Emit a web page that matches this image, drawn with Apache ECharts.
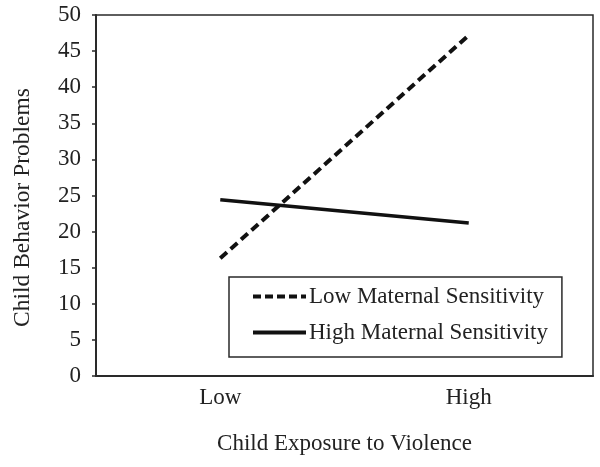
<!DOCTYPE html>
<html><head><meta charset="utf-8">
<script src="https://cdn.jsdelivr.net/npm/echarts@6/dist/echarts.min.js"></script>
<style>html,body{margin:0;padding:0;background:#fff}#c{width:600px;height:467px}</style>
</head><body><div id="c"></div>
<script>
const categories = ['Low', 'High'];
const lowSensitivity = [16.3, 47.2];
const highSensitivity = [24.4, 21.2];
const seriesNames = ['Low Maternal Sensitivity', 'High Maternal Sensitivity'];
const xTitle = 'Child Exposure to Violence';
const yTitle = 'Child Behavior Problems';

const font = 'Liberation Serif';
const fs = 23;
const dashLow = {color: '#111', width: 4, type: [9, 5]};
const solidHigh = {color: '#111', width: 3.5, type: 'solid'};
const chart = echarts.init(document.getElementById('c'));
chart.setOption({
  animation: false,
  backgroundColor: '#fff',
  textStyle: {fontFamily: font},
  grid: {left: 96, right: 7, top: 15, bottom: 91, show: true, borderColor: '#2a2a2a', borderWidth: 1.5, backgroundColor: 'transparent'},
  xAxis: {
    type: 'category', data: categories, boundaryGap: true,
    name: xTitle, nameLocation: 'middle', nameGap: 56,
    nameTextStyle: {fontFamily: font, fontSize: fs, color: '#222'},
    axisLine: {lineStyle: {color: '#2a2a2a', width: 2}},
    axisTick: {show: false},
    axisLabel: {fontFamily: font, fontSize: fs, color: '#222', margin: 10},
    splitLine: {show: false}
  },
  yAxis: {
    type: 'value', min: 0, max: 50, interval: 5,
    name: yTitle, nameLocation: 'middle', nameGap: 61, nameRotate: 90,
    nameTextStyle: {fontFamily: font, fontSize: 23.5, color: '#222', padding: [0, 24, 0, 0]},
    axisLine: {show: true, lineStyle: {color: '#2a2a2a', width: 2}},
    axisTick: {show: true, length: 4, lineStyle: {color: '#2a2a2a', width: 1.5}},
    axisLabel: {fontFamily: font, fontSize: fs, color: '#222', margin: 15, padding: [5, 0, 0, 0]},
    splitLine: {show: false}
  },
  legend: {
    orient: 'vertical', left: 229, top: 277, width: 333,
    borderColor: '#2a2a2a', borderWidth: 1.5,
    padding: [8, 14, 13, 22],
    itemWidth: 53, itemHeight: 14, itemGap: 13,
    itemStyle: {opacity: 0},
    textStyle: {fontFamily: font, fontSize: fs, color: '#222', padding: [0, 0, 0, -2]},
    data: [
      {name: seriesNames[0], lineStyle: {width: 4, type: [8, 4], color: '#111'}},
      {name: seriesNames[1], lineStyle: {width: 4, type: 'solid', color: '#111'}}
    ]
  },
  series: [
    {name: seriesNames[0], type: 'line', data: lowSensitivity, symbol: 'none',
     lineStyle: dashLow, itemStyle: {color: '#111'}},
    {name: seriesNames[1], type: 'line', data: highSensitivity, symbol: 'none',
     lineStyle: solidHigh, itemStyle: {color: '#111'}}
  ]
});
</script></body></html>
